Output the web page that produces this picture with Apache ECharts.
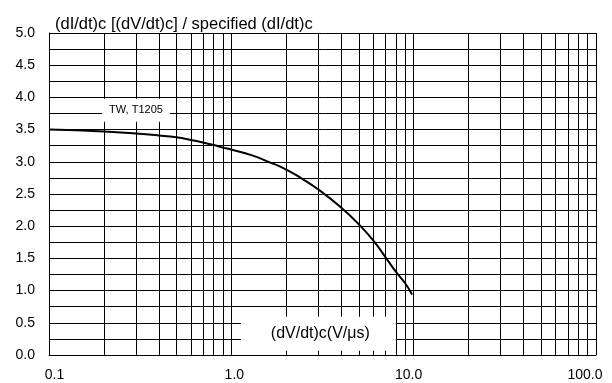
<!DOCTYPE html>
<html>
<head>
<meta charset="utf-8">
<script src="https://cdn.jsdelivr.net/npm/echarts@6/dist/echarts.min.js"></script>
<style>html,body{margin:0;padding:0;background:#fff}#c{width:612px;height:383px}</style>
</head>
<body>
<div id="c"></div>
<script>
// ---- data ----
var curveX = [0.1, 0.2, 0.3, 0.4, 0.5, 0.6, 0.7, 0.8, 0.9, 1.0, 1.3, 1.6, 2.0, 2.4, 3, 4, 5, 6, 7, 8, 9, 9.8];
var curveY = [3.50, 3.47, 3.44, 3.41, 3.38, 3.34, 3.30, 3.26, 3.22, 3.19, 3.10, 3.00, 2.88, 2.75, 2.57, 2.29, 2.03, 1.78, 1.52, 1.29, 1.11, 0.94];
var xTickLabels = ['0.1', '1.0', '10.0', '100.0'];
var xMinorGrid = [0.2, 0.3, 0.4, 0.5, 0.6, 0.7, 0.8, 0.9, 2, 3, 4, 5, 6, 7, 8, 9, 20, 30, 40, 50, 60, 70, 80, 90];
var titleText = '(dI/dt)c [(dV/dt)c] / specified (dI/dt)c';
var xAxisName = '(dV/dt)c(V/\u03bcs)';
var curveName = 'TW, T1205';

var FONT = 'Liberation Sans, Arial, Helvetica, sans-serif';
var chart = echarts.init(document.getElementById('c'), null, {renderer: 'canvas'});
var lineStyle = {color: '#000', width: 1, type: 'solid'};

chart.setOption({
  animation: false,
  backgroundColor: '#fff',
  title: {
    text: titleText, left: 50, top: 11,
    textStyle: {fontFamily: FONT, fontSize: 16.5, fontWeight: 'normal', color: '#000'}
  },
  grid: {left: 49, right: 16, top: 33, bottom: 28, containLabel: false},
  xAxis: {
    type: 'log', logBase: 10, min: 0.1, max: 100,
    axisLine: {show: true, lineStyle: lineStyle},
    axisTick: {show: false},
    splitLine: {show: true, lineStyle: lineStyle},
    axisLabel: {
      margin: 13, color: '#000', fontFamily: FONT, fontSize: 14,
      formatter: function (v, i) {
        var keys = ['a', 'b', 'c', 'd'];
        return '{' + keys[i] + '|' + xTickLabels[i] + '}';
      },
      rich: {
        a: {fontFamily: FONT, fontSize: 14, color: '#000', padding: [0, 0, 0, 11]},
        b: {fontFamily: FONT, fontSize: 14, color: '#000', padding: [0, 0, 0, 6]},
        c: {fontFamily: FONT, fontSize: 14, color: '#000', padding: [0, 10, 0, 0]},
        d: {fontFamily: FONT, fontSize: 14, color: '#000', padding: [0, 22, 0, 0]}
      }
    }
  },
  yAxis: {
    type: 'value', min: 0, max: 5, interval: 0.5,
    axisLine: {show: true, lineStyle: lineStyle},
    axisTick: {show: false},
    minorTick: {show: false, splitNumber: 2},
    splitLine: {show: true, lineStyle: lineStyle},
    minorSplitLine: {show: true, lineStyle: lineStyle},
    axisLabel: {
      margin: 14, color: '#000', fontFamily: FONT, fontSize: 14,
      formatter: function (v) { return v.toFixed(1); }
    }
  },
  series: [
    {
      type: 'line', data: [], z: 1, silent: true,
      markLine: {
        z: 1, silent: true, symbol: ['none', 'none'], animation: false,
        label: {show: false},
        lineStyle: lineStyle,
        emphasis: {disabled: true},
        data: xMinorGrid.map(function (v) { return {xAxis: v}; })
      }
    },
    {
      type: 'line', z: 3, silent: true, smooth: 0.5,
      showSymbol: false, symbol: 'none',
      lineStyle: {color: '#000', width: 2},
      data: curveX.map(function (x, i) { return [x, curveY[i]]; }),
      markPoint: {
        z: 10, silent: true, symbol: 'rect', symbolSize: 0, animation: false,
        data: [
          {
            coord: [0.3, 3.8], value: curveName,
            label: {
              show: true, position: 'inside', formatter: curveName,
              color: '#000', fontFamily: FONT, fontSize: 11, lineHeight: 13,
              backgroundColor: '#fff', padding: [6, 7, 4, 7]
            }
          },
          {
            coord: [3.0, 0.33], value: xAxisName,
            label: {
              show: true, position: 'inside', formatter: xAxisName,
              color: '#000', fontFamily: FONT, fontSize: 16, lineHeight: 18,
              backgroundColor: '#fff', padding: [13, 26, 3, 30]
            }
          }
        ]
      }
    }
  ]
});
</script>
</body>
</html>
